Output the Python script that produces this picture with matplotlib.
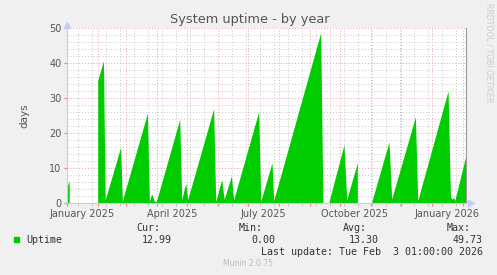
import numpy as np
import pandas as pd
import matplotlib
matplotlib.use("Agg")
import matplotlib.pyplot as plt
import matplotlib.dates as mdates
import matplotlib.transforms as mtransforms
from matplotlib.patches import Rectangle

# uptime in days, vertices (NaN = no data)
dates = [
    "2024-12-31 12:00", "2025-01-03 05:00", "2025-01-03 17:00",
    "2025-01-31 19:00", "2025-02-06 12:00", "2025-02-08 07:00",
    "2025-02-23 19:00", "2025-02-25 12:00", "2025-03-22 14:00",
    "2025-03-24 14:00", "2025-03-26 22:00", "2025-03-29 10:00",
    "2025-03-31 14:00", "2025-04-24 00:00", "2025-04-26 00:00",
    "2025-04-30 00:00", "2025-05-02 00:00", "2025-05-28 00:00",
    "2025-05-30 02:00", "2025-06-05 02:00", "2025-06-07 14:00",
    "2025-06-14 19:00", "2025-06-17 02:00", "2025-07-12 05:00",
    "2025-07-14 05:00", "2025-07-25 12:00", "2025-07-27 05:00",
    "2025-09-12 07:00", "2025-09-14 14:00", "2025-09-15 00:00",
    "2025-09-20 17:00", "2025-10-05 17:00", "2025-10-08 10:00",
    "2025-10-19 02:00", "2025-10-19 12:00",
    "2025-11-02 19:00", "2025-11-19 19:00", "2025-11-22 12:00",
    "2025-12-16 07:00", "2025-12-18 14:00", "2026-01-18 00:00",
    "2026-01-20 10:00", "2026-01-21 14:00", "2026-01-23 17:00",
    "2026-01-24 17:00", "2026-02-04 12:00",
]
uptime = [
    3.9, 6.3, np.nan,
    34.9, 40.5, 0.8,
    15.8, 0.5, 25.5,
    0.3, 2.5, 0.4,
    0.3, 23.8, 0.8,
    5.6, 0.8, 26.8,
    0.3, 6.6, 0.9,
    7.6, 0.8, 26.0,
    0.3, 11.4, 0.5,
    48.5, 0.0, np.nan,
    0.3, 16.5, 0.8,
    11.4, np.nan,
    0.5, 17.3, 1.0,
    24.5, 0.5, 31.9,
    1.8, 1.0, 1.4,
    0.5, 12.99,
]

label_dates = ["2025-01-16", "2025-04-16", "2025-07-16", "2025-10-16", "2026-01-16"]
label_texts = ["January 2025", "April 2025", "July 2025", "October 2025", "January 2026"]

stats_names = ["Cur:", "Min:", "Avg:", "Max:"]
stats_values = ["12.99", "0.00", "13.30", "49.73"]

t = pd.to_datetime(dates)
y = np.array(uptime)
x0 = pd.Timestamp("2024-12-31 12:00")
x1 = x0 + pd.Timedelta(days=400)

W, H = 497, 275
fig = plt.figure(figsize=(W / 100, H / 100), dpi=100)
fig.set_facecolor("#F0F0F0")
ax = fig.add_axes([67 / W, 1 - 203 / H, (466 - 67) / W, (203 - 28) / H])
ax.set_facecolor("white")

ax.fill_between(t, 0, y, color="#00CC00", linewidth=0, zorder=3)

ax.set_xlim(x0, x1)
ax.set_ylim(0, 50)

# grid
dot = (0, (1, 2))
ax.xaxis.set_major_locator(mdates.MonthLocator())
minor = pd.date_range("2025-01-12", x1, freq="14D")
ax.set_xticks(minor, minor=True)
ax.set_yticks(np.arange(0, 51, 10))
ax.set_yticks(np.arange(0, 51, 2), minor=True)
ax.grid(which="minor", color="#c8c8c8", linestyle=dot, linewidth=0.7, zorder=1)
ax.grid(which="major", color="#f0a0a0", linestyle=dot, linewidth=0.7, zorder=1)
ax.set_axisbelow(True)
ax.set_xticklabels([])
ax.tick_params(axis="x", which="major", length=2, color="#f08080", labelsize=7)
ax.tick_params(axis="x", which="minor", length=2, color="#c0c0c0")
ax.tick_params(axis="y", which="major", length=2, color="#f08080", labelsize=7,
               labelcolor="#555555", pad=2)
ax.tick_params(axis="y", which="minor", length=0)

trans = mtransforms.blended_transform_factory(ax.transData, ax.transAxes)
for d, s in zip(label_dates, label_texts):
    ax.text(pd.Timestamp(d), -0.035, s, transform=trans, ha="center", va="top",
            fontsize=7, color="#555555")

ax.spines["top"].set_visible(False)
ax.spines["left"].set_color("#c8c8ff")
ax.spines["bottom"].set_color("#c8c8ff")
ax.spines["right"].set_color("#999999")
for s in ["left", "bottom", "right"]:
    ax.spines[s].set_linewidth(0.8)
    ax.spines[s].set_zorder(4)
ax.plot([0], [1.02], marker="^", markersize=4, color="#c8c8ff",
        transform=ax.transAxes, clip_on=False)
ax.plot([1.012], [0], marker=">", markersize=4, color="#c8c8ff",
        transform=ax.transAxes, clip_on=False)

ax.set_ylabel("days", fontsize=7.5, color="#555555", labelpad=14)

fig.text(250 / W, 1 - 20 / H, "System uptime - by year", ha="center", va="center",
         fontsize=9.3, color="#555555")
fig.text(489 / W, 1 - 102 / H, "RRDTOOL / TOBI OETIKER", rotation=270,
         ha="center", va="bottom", fontsize=5.6, color="#cccccc")

# legend
mono = "DejaVu Sans Mono"
fig.patches.append(Rectangle((14 / W, 1 - 242 / H), 5 / W, 5 / H,
                             transform=fig.transFigure, color="#00CC00"))
fig.text(26 / W, 1 - 240 / H, "Uptime", ha="left", va="center",
         family=mono, fontsize=7.2, color="#333333")
name_right = [160, 263, 367, 471]
val_right = [172, 275, 379, 483]
for n, v, nr, vr in zip(stats_names, stats_values, name_right, val_right):
    fig.text(nr / W, 1 - 228 / H, n, ha="right", va="center",
             family=mono, fontsize=7.2, color="#333333")
    fig.text(vr / W, 1 - 240 / H, v, ha="right", va="center",
             family=mono, fontsize=7.2, color="#333333")
fig.text(483 / W, 1 - 252 / H, "Last update: Tue Feb  3 01:00:00 2026",
         ha="right", va="center", family=mono, fontsize=7.2, color="#333333")
fig.text(248 / W, 1 - 263 / H, "Munin 2.0.75", ha="center", va="center",
         fontsize=5.5, color="#bbbbbb")

fig.savefig("out.png", dpi=100, facecolor=fig.get_facecolor())
